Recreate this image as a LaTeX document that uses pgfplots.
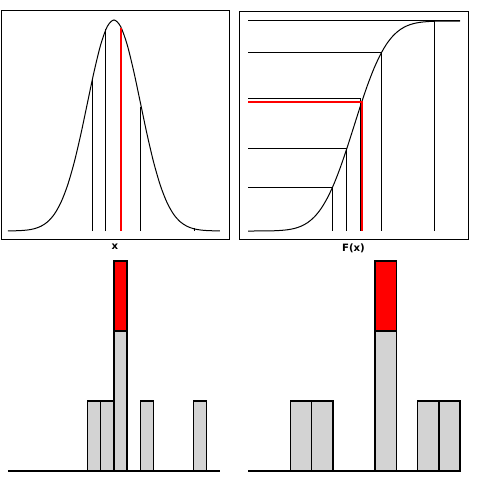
\documentclass[border=0pt]{standalone}
\usepackage{pgfplots}
\pgfplotsset{compat=1.18}
\usepackage{fontspec}
\setmainfont{DejaVu Sans}
\definecolor{lgrey}{RGB}{211,211,211}
\begin{document}
\begin{tikzpicture}
\path[use as bounding box] (0pt,0pt) rectangle (360pt,360pt);
\pgfplotsset{
  panel/.style={scale only axis, anchor=south west, xtick=\empty, ytick=\empty,
    axis line style={line width=0.75pt}, clip=false,
    xlabel style={font=\bfseries\fontsize{7.6}{9}\selectfont, text=black, at={(axis description cs:0.5,0)}, anchor=north, inner sep=0pt, yshift=-3.6pt}},
  hist/.style={scale only axis, anchor=south west, hide axis, clip=false},
  thin/.style={black, line width=0.75pt},
  redl/.style={red, line width=1.5pt},
  gbar/.style={ybar, bar width=#1, bar shift=0pt, fill=lgrey, draw=black, line width=1.1pt},
  rbar/.style={ybar, bar width=#1, bar shift=0pt, fill=red, draw=black, line width=1.1pt},
}
% ---------------- top left: density
\begin{axis}[panel, at={(0.75pt,180.75pt)}, width=171pt, height=171pt,
  xmin=-4.26, xmax=4.34, ymin=-0.0151, ymax=0.4159, xlabel={x}]
\addplot[thin, smooth] coordinates {
(-4,0.0001) (-3.75,0.0004) (-3.5,0.0009) (-3.25,0.0020) (-3,0.0044) (-2.75,0.0091)
(-2.5,0.0175) (-2.25,0.0317) (-2,0.0540) (-1.75,0.0863) (-1.5,0.1295) (-1.25,0.1826)
(-1,0.2420) (-0.75,0.3011) (-0.5,0.3521) (-0.25,0.3867) (0,0.3989) (0.25,0.3867)
(0.5,0.3521) (0.75,0.3011) (1,0.2420) (1.25,0.1826) (1.5,0.1295) (1.75,0.0863)
(2,0.0540) (2.25,0.0317) (2.5,0.0175) (2.75,0.0091) (3,0.0044) (3.25,0.0020)
(3.5,0.0009) (3.75,0.0004) (4,0.0001)};
\addplot[thin] coordinates {(-0.82,0) (-0.82,0.287)};
\addplot[thin] coordinates {(-0.30,0) (-0.30,0.382)};
\addplot[thin] coordinates {(1.02,0) (1.02,0.235)};
\addplot[thin] coordinates {(3.02,0) (3.02,0.006)};
\addplot[redl] coordinates {(0.27,0) (0.27,0.384)};
\end{axis}
% ---------------- top right: CDF
\begin{axis}[panel, at={(179.25pt,180.75pt)}, width=171.75pt, height=171pt,
  xmin=-4.34, xmax=4.30, ymin=-0.038, ymax=1.0476, xlabel={F(x)}]
\addplot[thin, smooth] coordinates {
(-4,0.0000) (-3.75,0.0001) (-3.5,0.0002) (-3.25,0.0006) (-3,0.0013) (-2.75,0.0030)
(-2.5,0.0062) (-2.25,0.0122) (-2,0.0228) (-1.75,0.0401) (-1.5,0.0668) (-1.25,0.1056)
(-1,0.1587) (-0.75,0.2266) (-0.5,0.3085) (-0.25,0.4013) (0,0.5) (0.25,0.5987)
(0.5,0.6915) (0.75,0.7734) (1,0.8413) (1.25,0.8944) (1.5,0.9332) (1.75,0.9599)
(2,0.9772) (2.25,0.9878) (2.5,0.9938) (2.75,0.9970) (3,0.9987) (3.25,0.9994)
(3.5,0.9998) (3.75,0.9999) (4,1.0000)};
\addplot[thin] coordinates {(-4,1) (4,1)};
\addplot[thin] coordinates {(3.02,0) (3.02,1)};
\addplot[thin] coordinates {(-4,0.852) (1.02,0.852) (1.02,0)};
\addplot[thin] coordinates {(-4,0.629) (0.25,0.629) (0.25,0)};
\addplot[thin] coordinates {(-4,0.395) (-0.30,0.395) (-0.30,0)};
\addplot[thin] coordinates {(-4,0.205) (-0.82,0.205) (-0.82,0)};
\addplot[redl] coordinates {(-4,0.614) (0.30,0.614) (0.30,0)};
\end{axis}
% ---------------- bottom left: histogram of x
\begin{axis}[hist, at={(0.75pt,3.75pt)}, width=171pt, height=165pt,
  xmin=-4.26, xmax=4.34, ymin=-0.0571, ymax=3.0857]
\addplot[rbar=0.5] coordinates {(0.25,3)};
\addplot[gbar=0.5] coordinates {(-0.75,1) (-0.25,1) (0.25,2) (1.25,1) (3.25,1)};
\addplot[black, line width=1.5pt] coordinates {(-4,0) (4,0)};
\end{axis}
% ---------------- bottom right: histogram of F(x)
\begin{axis}[hist, at={(179.25pt,3.75pt)}, width=171.75pt, height=165pt,
  xmin=-0.0425, xmax=1.0377, ymin=-0.0571, ymax=3.0857]
\addplot[rbar=0.1] coordinates {(0.65,3)};
\addplot[gbar=0.1] coordinates {(0.25,1) (0.35,1) (0.65,2) (0.85,1) (0.95,1)};
\addplot[black, line width=1.5pt] coordinates {(0,0) (1,0)};
\end{axis}
\end{tikzpicture}
\end{document}
